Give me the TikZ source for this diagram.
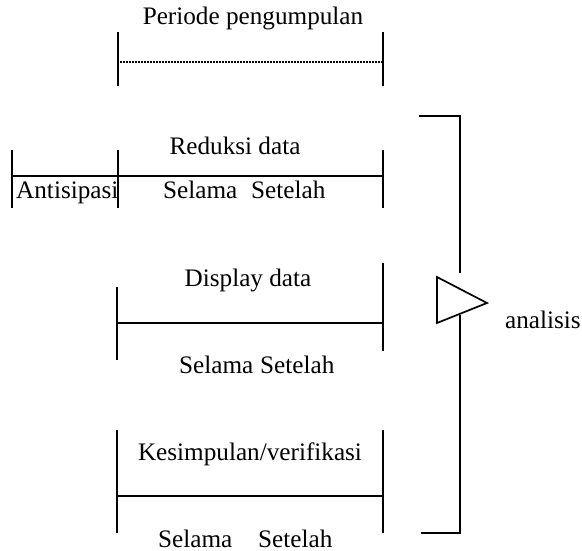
\documentclass[tikz,border=0pt]{standalone}
\usepackage{fontspec}
\setmainfont{Liberation Serif}
\begin{document}
\begin{tikzpicture}[x=1pt,y=-1pt,
  tick/.style={line width=2pt},
  bar/.style={line width=1.7pt},
  lbl/.style={anchor=base,inner sep=0pt,font=\fontsize{25.2}{28}\selectfont},
  lblw/.style={anchor=base west,inner sep=0pt,font=\fontsize{25.2}{28}\selectfont}]
\useasboundingbox (0,0) rectangle (582,551);
% Periode pengumpulan
\node[lbl] (per) at (253,25) {Periode pengumpulan};
\coordinate (p1t) at (118,32); \coordinate (p1b) at (118,86);
\coordinate (p2t) at (383,32); \coordinate (p2b) at (383,86);
\draw[tick] (p1t) -- (p1b);
\draw[tick] (p2t) -- (p2b);
\coordinate (pdl) at (120,62); \coordinate (pdr) at (382,62);
\draw[line width=1.3pt,dash pattern=on 2.2pt off 0.8pt] (pdl) -- (pdr);
% Reduksi data
\node[lbl] (red) at (235,155) {Reduksi data};
\coordinate (r0t) at (12,150); \coordinate (r0b) at (12,208);
\coordinate (r1t) at (118,150); \coordinate (r1b) at (118,208);
\coordinate (r2t) at (383,150); \coordinate (r2b) at (383,208);
\draw[tick] (r0t) -- (r0b);
\draw[tick] (r1t) -- (r1b);
\draw[tick] (r2t) -- (r2b);
\coordinate (rl) at (12,176); \coordinate (rr) at (383,176);
\draw[bar] (rl) -- (rr);
\node[lblw] (ant) at (16,198) {Antisipasi};
\node[lblw] (rsel) at (163,198) {Selama};
\node[lblw] (rset) at (251,198) {Setelah};
% Display data
\node[lbl] (dis) at (248,286) {Display data};
\coordinate (d1t) at (117,287); \coordinate (d1b) at (117,360);
\coordinate (d2t) at (383,263); \coordinate (d2b) at (383,351);
\draw[tick] (d1t) -- (d1b);
\draw[tick] (d2t) -- (d2b);
\coordinate (dl) at (117,323); \coordinate (dr) at (383,323);
\draw[bar] (dl) -- (dr);
\node[lblw] (dsel) at (179,373) {Selama};
\node[lblw] (dset) at (260,373) {Setelah};
% Kesimpulan/verifikasi
\node[lbl] (kes) at (250,460) {Kesimpulan/verifikasi};
\coordinate (k1t) at (117,430); \coordinate (k1b) at (117,533);
\coordinate (k2t) at (383,430); \coordinate (k2b) at (383,533);
\draw[tick] (k1t) -- (k1b);
\draw[tick] (k2t) -- (k2b);
\coordinate (kl) at (117,496); \coordinate (kr) at (383,496);
\draw[bar] (kl) -- (kr);
\node[lblw] (ksel) at (158,547) {Selama};
\node[lblw] (kset) at (258,547) {Setelah};
% analisis bracket
\coordinate (bt0) at (419,116); \coordinate (bt1) at (460,116);
\coordinate (bm0) at (460,273);
\coordinate (bm1) at (460,315);
\coordinate (bb1) at (460,533); \coordinate (bb0) at (421,533);
\draw[bar] (bt0) -- (bt1) -- (bm0);
\draw[bar] (bm1) -- (bb1) -- (bb0);
\coordinate (ta) at (437,277); \coordinate (tb) at (437,323); \coordinate (tc) at (487,303);
\draw[bar,line join=miter] (ta) -- (tc) -- (tb) -- cycle;
\node[lblw] (ana) at (505,328) {analisis};
\end{tikzpicture}
\end{document}
